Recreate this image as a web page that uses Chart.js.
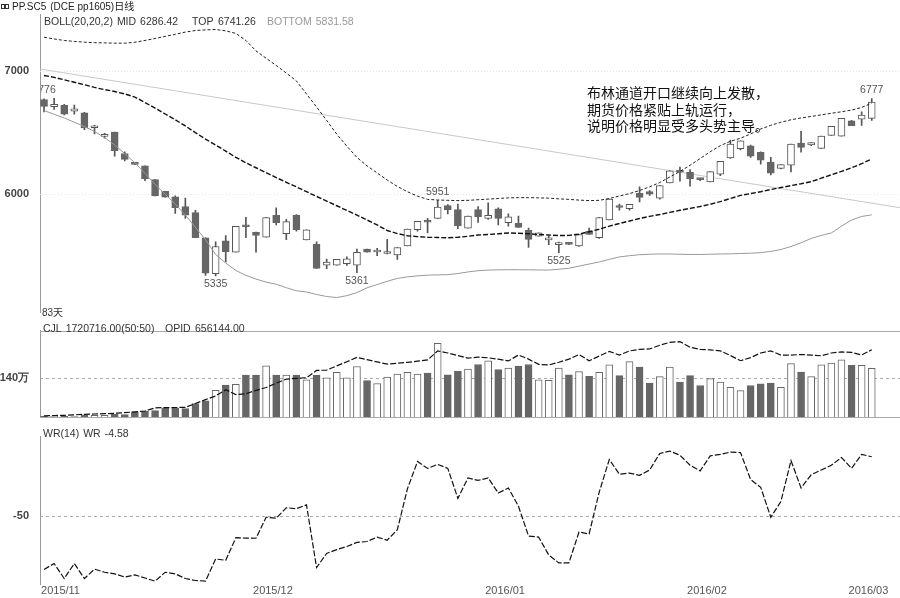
<!DOCTYPE html>
<html>
<head>
<meta charset="utf-8">
<script src="https://cdn.jsdelivr.net/npm/chart.js@4.4.0/dist/chart.umd.min.js"></script>
<style>
html, body { margin: 0; padding: 0; background: #fff; }
#wrap { position: relative; width: 900px; height: 598px; overflow: hidden; }
canvas { position: absolute; left: 0; }
</style>
</head>
<body>
<div id="wrap">
  <canvas id="price" width="900" height="322" style="top:0px"></canvas>
  <canvas id="vol" width="900" height="106" style="top:321px"></canvas>
  <canvas id="wr" width="900" height="171" style="top:427px"></canvas>
</div>
<script>
// daily candles, pp1605, 83 trading days
const opens = [6770,6712,6722,6675,6661,6540,6470,6504,6331,6248,
  6231,6118,6024,5979,5900,5850,5646,5354,5620,5528,
  5742,5690,5651,5829,5680,5829,5628,5593,5423,5423,
  5435,5423,5554,5530,5518,5506,5580,5711,5780,5803,
  5908,5874,5724,5874,5803,5882,5769,5764,5706,5659,
  5628,5590,5596,5580,5698,5646,5790,5898,5882,6008,
  6021,5968,6092,6197,6179,6122,6100,6163,6294,6370,
  6394,6341,6262,6210,6236,6415,6400,6373,6478,6472,
  6596,6609,6617];
const highs = [6776,6780,6730,6725,6665,6560,6495,6504,6345,6250,
  6231,6118,6024,5987,5968,5869,5646,5612,5664,5738,
  5811,5692,5809,5890,5795,5835,5711,5612,5472,5470,
  5490,5554,5554,5560,5633,5567,5717,5780,5803,5951,
  5915,5920,5822,5900,5929,5890,5840,5822,5725,5685,
  5660,5610,5598,5672,5725,5809,5960,5920,5917,6060,
  6030,6071,6189,6220,6200,6130,6184,6268,6440,6433,
  6400,6345,6300,6241,6407,6512,6420,6472,6551,6617,
  6600,6670,6777];
const lows = [6669,6690,6645,6650,6525,6490,6455,6310,6270,6240,
  6110,5987,5976,5843,5803,5646,5340,5335,5449,5528,
  5646,5528,5651,5750,5630,5700,5628,5396,5394,5423,
  5420,5361,5528,5500,5514,5470,5580,5700,5685,5803,
  5840,5720,5724,5770,5795,5750,5740,5730,5567,5659,
  5590,5525,5590,5575,5672,5640,5790,5870,5870,5937,
  5990,5960,6092,6105,6065,6110,6100,6150,6290,6360,
  6300,6244,6157,6205,6181,6341,6395,6373,6478,6472,
  6557,6560,6600];
const closes = [6714,6730,6651,6695,6538,6548,6478,6354,6283,6242,
  6126,5987,5976,5890,5829,5646,5357,5575,5533,5738,
  5735,5664,5809,5769,5777,5711,5711,5396,5449,5470,
  5475,5528,5528,5536,5526,5567,5717,5780,5772,5895,
  5874,5743,5822,5817,5829,5803,5817,5730,5633,5685,
  5638,5597,5592,5672,5672,5809,5960,5892,5917,5974,
  6000,6071,6189,6179,6126,6118,6184,6268,6407,6433,
  6310,6276,6171,6241,6407,6380,6420,6472,6551,6617,
  6557,6643,6748];

// BOLL(20,20,2)
const bollMid = [6965,6950,6930,6910,6890,6868,6850,6835,6815,6790,
  6745,6700,6652,6605,6555,6500,6448,6400,6350,6300,
  6255,6215,6175,6135,6097,6060,6020,5982,5944,5906,
  5868,5830,5790,5750,5705,5680,5662,5655,5650,5648,
  5646,5650,5658,5668,5672,5678,5685,5682,5678,5672,
  5668,5664,5665,5675,5695,5715,5740,5762,5782,5802,
  5820,5835,5852,5869,5885,5900,5918,5940,5965,5990,
  6005,6020,6038,6054,6070,6085,6102,6130,6158,6185,
  6215,6248,6286];
const bollTop = [7276,7262,7250,7242,7236,7232,7230,7228,7228,7235,
  7250,7266,7283,7300,7318,7331,7336,7339,7328,7307,
  7250,7165,7105,7047,6985,6921,6815,6709,6600,6488,
  6390,6299,6230,6173,6115,6063,6020,5984,5958,5953,
  5950,5948,5950,5955,5960,5965,5970,5972,5972,5970,
  5968,5962,5958,5952,5948,5950,5965,5985,6005,6030,
  6060,6095,6140,6185,6235,6290,6345,6395,6430,6455,
  6490,6530,6560,6585,6605,6620,6632,6645,6658,6670,
  6684,6705,6741];
const bollBottom = [6680,6650,6620,6585,6550,6510,6460,6400,6330,6255,
  6170,6080,6000,5920,5830,5730,5630,5510,5440,5380,
  5340,5310,5285,5268,5240,5215,5205,5185,5168,5160,
  5175,5200,5239,5265,5292,5315,5328,5336,5342,5344,
  5346,5355,5368,5378,5383,5385,5386,5386,5385,5384,
  5383,5390,5398,5415,5432,5449,5470,5490,5500,5508,
  5512,5514,5514,5512,5510,5510,5512,5514,5515,5518,
  5520,5525,5535,5550,5575,5605,5640,5665,5685,5740,
  5790,5819,5832];

// hand-drawn trend line (start / end)
const trendX = [-0.4, 84.8];
const trendY = [7018, 5890];

// volume (万手) and open interest (万手)
const volume = [5,5,4,3,9,7,7,12,10,20,
  22,24,33,33,31,49,58,95,114,116,
  149,149,181,149,149,149,132,149,139,158,
  139,179,129,119,142,152,158,152,156,260,
  150,162,170,186,199,168,173,180,186,132,
  130,173,150,161,144,158,185,147,196,177,
  121,143,177,124,147,112,136,124,106,94,
  112,118,121,106,189,159,143,185,191,202,
  183,183,172];
const openInterest = [1.5,1.8,2.0,2.5,3.0,3.3,3.6,4.0,4.6,5.4,
  6.2,9.3,9.5,9.6,9.7,13.5,17.3,20.8,26.8,22.2,
  23.0,26.2,29.0,33.2,37.1,37.9,38.5,45.6,45.9,50.0,
  54.0,58.2,56.0,53.8,51.7,52.6,53.4,54.6,55.8,64.5,
  62.5,60.0,57.5,58.5,57.8,56.5,54.8,60.5,56.5,51.5,
  50.8,53.5,56.5,61.0,55.0,59.5,64.0,60.5,64.5,66.0,
  66.4,70.0,72.8,73.5,68.0,66.0,65.5,64.5,60.0,55.0,
  58.0,62.5,64.5,60.5,60.5,61.0,60.5,59.8,62.5,63.5,
  63.0,60.5,65.6];

// WR(14)
const wr = [-91,-86.5,-98,-86.5,-98,-90.8,-93.2,-94.4,-96.9,-95.2,
  -97.6,-100,-93.2,-94.4,-98,-99.5,-100,-83,-84,-66.7,
  -67,-67.1,-51,-51.7,-43.7,-44.4,-41.5,-89.6,-78.7,-75.8,
  -73.4,-70.3,-69.6,-66.2,-68.6,-60.6,-29.2,-8.2,-13.5,-10.4,
  -13.5,-36.5,-20.8,-22.7,-20.8,-32.4,-28.5,-42.5,-65.4,-66.2,
  -79.9,-86,-86,-62.3,-63.8,-31.7,-6.7,-17.9,-17.1,-18.8,
  -14.7,-2,-0.2,-3.4,-11.1,-15.4,-3.9,-2.7,-1,-1.4,
  -22,-28,-51,-38.9,-7.5,-28.5,-18.4,-14.7,-11.1,-5.1,
  -13.5,-2.7,-4.58];

// axis ticks
const priceTicks = [6000, 7000];
const volTicks = [140];
const wrTicks = [-50];
const monthStart = [0, 21, 44, 64, 80];
const monthLabels = ['2015/11', '2015/12', '2016/01', '2016/02', '2016/03'];

// extreme price labels
const markIdx = [0, 17, 31, 39, 51, 82];
const markSide = ['high', 'low', 'low', 'high', 'low', 'high'];

const notes = ['布林通道开口继续向上发散，', '期货价格紧贴上轨运行，', '说明价格明显受多头势主导。'];

Chart.defaults.font.family = '"Liberation Sans", Arial, sans-serif';
Chart.defaults.animation = false;

const idx = opens.map((_, i) => i);
const isUp = idx.map(i => closes[i] >= opens[i]);
const pts = arr => arr.map((v, i) => ({x: i, y: v}));

const xRange = {min: -0.4, max: 84.8};
const yFit = s => { s.width = 40; };
const tickFont = {size: 11, weight: 'bold'};
const smallFont = '10px "Liberation Sans", "Noto Sans CJK SC"';

function fixedTicks(values) {
  return s => { s.ticks = values.map(v => ({value: v})); };
}

function refLines(values, color, dash) {
  return {
    id: 'refs',
    beforeDatasetsDraw(chart) {
      const {ctx, chartArea: a, scales: {y}} = chart;
      ctx.save();
      ctx.strokeStyle = color;
      ctx.lineWidth = 1;
      ctx.setLineDash(dash);
      values.forEach(v => {
        const py = Math.round(y.getPixelForValue(v)) + 0.5;
        ctx.beginPath(); ctx.moveTo(a.left, py); ctx.lineTo(a.right, py); ctx.stroke();
      });
      ctx.restore();
    }
  };
}

function put(ctx, s, x, y, font, color, align, base) {
  ctx.font = font;
  ctx.fillStyle = color;
  ctx.textAlign = align || 'left';
  ctx.textBaseline = base || 'middle';
  ctx.fillText(s, x, y);
}

// a row of label pieces: each at its x, pushed right if it would touch the previous one
function row(ctx, items, y, font) {
  let end = 0;
  ctx.font = font;
  items.forEach(([s, x, color]) => {
    const px = Math.max(x, end + 4);
    put(ctx, s, px, y, font, color);
    end = px + ctx.measureText(s).width;
  });
}

// ---------- price panel ----------
const priceText = {
  id: 'priceText',
  afterDraw(chart) {
    const {ctx, chartArea: a, scales: {x, y}} = chart;
    ctx.save();
    ctx.strokeStyle = '#333'; ctx.lineWidth = 1;
    ctx.strokeRect(1.5, 4.5, 3, 4); ctx.strokeRect(5.5, 4.5, 3, 4);
    row(ctx, [['PP.SC5', 12, '#222'], ['(DCE pp1605)日线', 48, '#222']], 7, smallFont);
    row(ctx, [['BOLL(20,20,2)', 44, '#333'], ['MID', 113, '#333'], ['6286.42', 137, '#333'],
              ['TOP', 192, '#333'], ['6741.26', 218, '#333'], ['BOTTOM', 267, '#999'],
              ['5831.58', 305, '#999']], 22, '10.5px "Liberation Sans"');
    notes.forEach((s, k) => put(ctx, s, 587, 93 + k * 16.5, '14px "Noto Sans CJK SC"', '#111'));
    put(ctx, '83天', 42, 313, smallFont, '#333');
    ctx.beginPath(); ctx.rect(a.left + 1, a.top - 14, a.right - a.left, a.bottom - a.top + 14); ctx.clip();
    markIdx.forEach((i, k) => {
      const px = x.getPixelForValue(i);
      if (markSide[k] === 'high') {
        put(ctx, String(highs[i]), px, y.getPixelForValue(highs[i]) - 3, '10.5px "Liberation Sans"', '#555', 'center', 'bottom');
      } else {
        put(ctx, String(lows[i]), px, y.getPixelForValue(lows[i]) + 3, '10.5px "Liberation Sans"', '#555', 'center', 'top');
      }
    });
    ctx.restore();
  }
};

new Chart(document.getElementById('price'), {
  type: 'bar',
  data: {
    datasets: [
      {type: 'line', label: 'MID', data: pts(bollMid), borderColor: '#111', borderWidth: 1.4,
       borderDash: [5, 2], pointRadius: 0, order: 0},
      {type: 'line', label: 'TOP', data: pts(bollTop), borderColor: '#222', borderWidth: 1,
       borderDash: [3, 2], pointRadius: 0, order: 1},
      {type: 'line', label: 'BOTTOM', data: pts(bollBottom), borderColor: '#999', borderWidth: 1,
       pointRadius: 0, order: 2},
      {label: 'body', data: idx.map(i => ({x: i, y: [opens[i], closes[i]]})),
       backgroundColor: idx.map(i => isUp[i] ? '#fff' : '#666'),
       borderColor: idx.map(i => isUp[i] ? '#555' : '#666'),
       borderWidth: 1, borderSkipped: false, barThickness: 7, minBarLength: 2, grouped: false, order: 3},
      {label: 'wick', data: idx.map(i => ({x: i, y: [lows[i], highs[i]]})),
       backgroundColor: '#555', barThickness: 1, grouped: false, order: 4},
      {type: 'line', label: 'trend', data: trendX.map((v, k) => ({x: v, y: trendY[k]})),
       borderColor: '#c8c8c8', borderWidth: 1, pointRadius: 0, order: 5}
    ]
  },
  options: {
    responsive: false,
    layout: {padding: {top: 14, left: 0, right: 0, bottom: 0}},
    plugins: {legend: {display: false}, tooltip: {enabled: false}},
    scales: {
      x: {type: 'linear', display: false, offset: false, ...xRange},
      y: {min: 5039, max: 7465, afterFit: yFit, afterBuildTicks: fixedTicks(priceTicks),
          grid: {display: false}, border: {display: true, color: '#999'},
          ticks: {font: tickFont, color: '#444', padding: 3, callback: v => String(v)}}
    }
  },
  plugins: [refLines(priceTicks, '#e4e4e4', [1, 2]), priceText]
});

// ---------- volume / open interest panel ----------
const volText = {
  id: 'volText',
  afterDraw(chart) {
    const {ctx, chartArea: a} = chart;
    ctx.save();
    ctx.strokeStyle = '#aaa'; ctx.lineWidth = 1;
    [a.top, a.bottom].forEach(py => {
      ctx.beginPath(); ctx.moveTo(a.left, Math.round(py) + 0.5); ctx.lineTo(a.right, Math.round(py) + 0.5); ctx.stroke();
    });
    row(ctx, [['CJL', 43, '#333'], ['1720716.00(50:50)', 63, '#333'], ['OPID', 165, '#333'],
              ['656144.00', 195, '#333']], 8, '10.5px "Liberation Sans"');
    ctx.restore();
  }
};

new Chart(document.getElementById('vol'), {
  type: 'bar',
  data: {
    datasets: [
      {type: 'line', label: 'OPID', data: pts(openInterest), yAxisID: 'y2', borderColor: '#111',
       borderWidth: 1.2, borderDash: [6, 2], pointRadius: 0, order: 0},
      {label: 'CJL', data: pts(volume),
       backgroundColor: idx.map(i => isUp[i] ? '#fff' : '#666'),
       borderColor: '#666', borderWidth: 1, borderSkipped: 'bottom', barThickness: 7, order: 1}
    ]
  },
  options: {
    responsive: false,
    layout: {padding: {top: 1, left: 0, right: 0, bottom: 1}},
    plugins: {legend: {display: false}, tooltip: {enabled: false}},
    scales: {
      x: {type: 'linear', display: false, offset: false, ...xRange},
      y: {min: 0, max: 305, afterFit: yFit, afterBuildTicks: fixedTicks(volTicks),
          grid: {display: false}, border: {display: true, color: '#999'},
          ticks: {font: tickFont, color: '#444', padding: 3, callback: v => v + '万'}},
      y2: {min: 0, max: 84.2, display: false}
    }
  },
  plugins: [refLines(volTicks, '#aaa', [3, 3]), volText]
});

// ---------- WR panel ----------
const wrText = {
  id: 'wrText',
  afterDraw(chart) {
    const {ctx, chartArea: a, scales: {x}} = chart;
    ctx.save();
    row(ctx, [['WR(14)', 43, '#333'], ['WR', 75, '#333'], ['-4.58', 100, '#333']], 7, '10.5px "Liberation Sans"');
    monthStart.forEach((i, k) => {
      put(ctx, monthLabels[k], x.getPixelForValue(i) - 3, a.bottom + 7, '11px "Liberation Sans"', '#555');
    });
    ctx.restore();
  }
};

new Chart(document.getElementById('wr'), {
  type: 'line',
  data: {
    datasets: [
      {label: 'WR', data: pts(wr), borderColor: '#111', borderWidth: 1.2, borderDash: [6, 2], pointRadius: 0}
    ]
  },
  options: {
    responsive: false,
    layout: {padding: {top: 1, left: 0, right: 0, bottom: 14}},
    plugins: {legend: {display: false}, tooltip: {enabled: false}},
    scales: {
      x: {type: 'linear', display: false, offset: false, ...xRange},
      y: {min: -102.2, max: 10.9, afterFit: yFit, afterBuildTicks: fixedTicks(wrTicks),
          grid: {display: false}, border: {display: true, color: '#999'},
          ticks: {font: tickFont, color: '#444', padding: 3}}
    }
  },
  plugins: [refLines(wrTicks, '#aaa', [3, 3]), wrText]
});
</script>
</body>
</html>
